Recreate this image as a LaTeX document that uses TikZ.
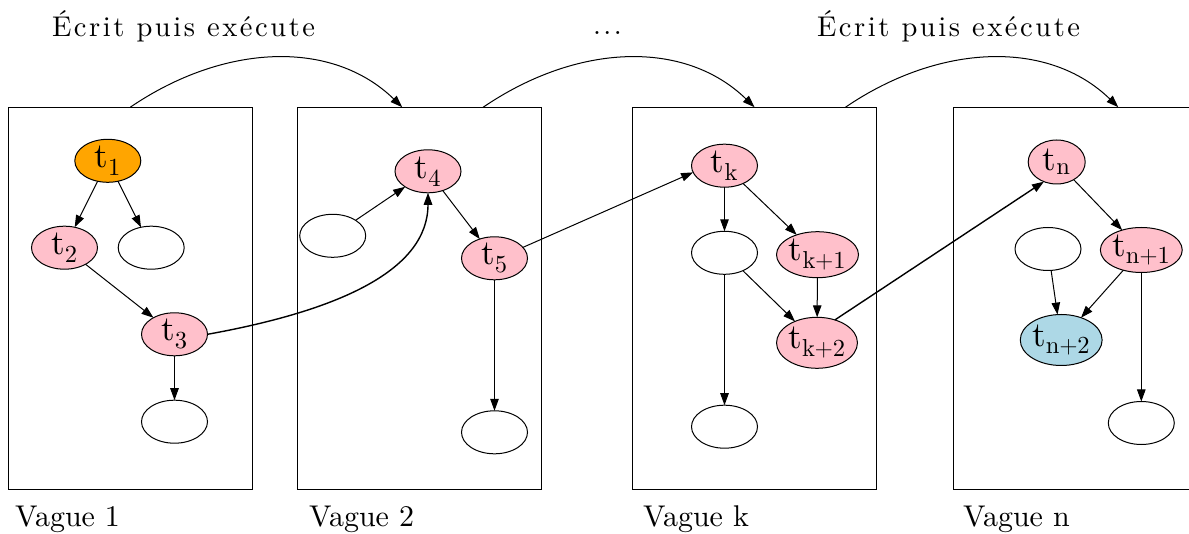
\documentclass[tikz,border=0pt]{standalone}
\usepackage{fontspec}
\setmainfont{lmroman10-regular.otf}
\newfontfamily\ttlfont{lmroman10-regular.otf}[LetterSpace=9]
\usetikzlibrary{shapes.geometric,arrows.meta,calc}
\definecolor{gvpink}{HTML}{FFC0CB}
\definecolor{gvorange}{HTML}{FFA500}
\definecolor{gvblue}{HTML}{ADD8E6}
\begin{document}
\begin{tikzpicture}[x=1pt,y=-1pt,
  every node/.style={outer sep=0pt},
  box/.style={draw, line width=1.2pt, rectangle, minimum width=244pt, minimum height=382pt, inner sep=0pt},
  task/.style={draw, line width=1pt, ellipse, inner sep=0pt, minimum width=66pt, minimum height=43pt, font=\fontsize{35}{40}\selectfont},
  empty/.style={task},
  edge/.style={draw, line width=1pt, -{Triangle[length=12pt,width=8.5pt]}},
  thickedge/.style={edge, line width=1.4pt},
  wave/.style={anchor=base west, inner sep=0pt, font=\fontsize{30}{36}\selectfont},
  title/.style={anchor=base west, inner sep=0pt, font=\ttlfont\fontsize{28.5}{32}\selectfont}
]
\useasboundingbox (0,0) rectangle (1189,534);

% titles
\node[title] (w1) at (52,36.7) {Écrit puis exécute};
\node[title] (w2) at (593,35) {...};
\node[title] (w3) at (817,36.7) {Écrit puis exécute};

% clusters
\node[box] (b1) at (130.3,298.2) {};
\node[box] (b2) at (419.2,298.2) {};
\node[box] (b3) at (754.5,298.2) {};
\node[box] (b4) at (1075.3,298.2) {};

\node[wave] (v1) at (15,526) {Vague 1};
\node[wave] (v2) at (309,526) {Vague 2};
\node[wave] (v3) at (643,526) {Vague k};
\node[wave] (v4) at (963,526) {Vague n};

% wave 1
\node[task, fill=gvorange] (t1) at (107.8,160.8) {$\mathrm{t}_{\mathrm{1}}$};
\node[task, fill=gvpink] (t2) at (64.5,247.7) {$\mathrm{t}_{\mathrm{2}}$};
\node[empty] (e1) at (151.2,247.7) {};
\node[task, fill=gvpink] (t3) at (174.5,334.3) {$\mathrm{t}_{\mathrm{3}}$};
\node[empty] (e2) at (174.5,421.7) {};

% wave 2
\node[task, fill=gvpink] (t4) at (428,171.3) {$\mathrm{t}_{\mathrm{4}}$};
\node[empty] (e3) at (332.7,235.8) {};
\node[task, fill=gvpink] (t5) at (494.5,258.3) {$\mathrm{t}_{\mathrm{5}}$};
\node[empty] (e4) at (494.5,432.3) {};

% wave k
\node[task, fill=gvpink] (tk) at (724.5,165.7) {$\mathrm{t}_{\mathrm{k}}$};
\node[empty] (e5) at (724.5,252.8) {};
\node[task, fill=gvpink, minimum width=82pt, minimum height=46pt] (tk1) at (817.5,254.7) {$\mathrm{t}_{\mathrm{k+1}}$};
\node[task, fill=gvpink, minimum width=76pt, minimum height=51pt] (tk2) at (817,342.8) {$\mathrm{t}_{\mathrm{k+2}}$};
\node[empty] (e6) at (724.5,426.7) {};

% wave n
\node[task, fill=gvpink, minimum width=57pt, minimum height=44pt] (tn) at (1056.7,162) {$\mathrm{t}_{\mathrm{n}}$};
\node[empty] (e7) at (1048,249) {};
\node[task, fill=gvpink, minimum width=77pt, minimum height=45pt] (tn1) at (1141.3,250) {$\mathrm{t}_{\mathrm{n+1}}$};
\node[task, fill=gvblue, minimum width=78pt, minimum height=51pt] (tn2) at (1061.2,340) {$\mathrm{t}_{\mathrm{n+2}}$};
\node[empty] (e8) at (1141.3,423) {};

% edges inside clusters
\draw[edge] (t1) -- (t2);
\draw[edge] (t1) -- (e1);
\draw[edge] (t2) -- (t3);
\draw[edge] (t3) -- (e2);
\draw[edge] (e3) -- (t4);
\draw[edge] (t4) -- (t5);
\draw[edge] (t5) -- (e4);
\draw[edge] (tk) -- (e5);
\draw[edge] (tk) -- (tk1);
\draw[edge] (e5) -- (tk2);
\draw[edge] (tk1) -- (tk2);
\draw[edge] (e5) -- (e6);
\draw[edge] (tn) -- (tn1);
\draw[edge] (e7) -- (tn2);
\draw[edge] (tn1) -- (tn2);
\draw[edge] (tn1) -- (e8);

% edges between clusters
\draw[thickedge] (t3.east) .. controls +(133,-24) and +(0,77) .. (t4.south);
\draw[edge] (t5.21) -- (tk.192);
\draw[thickedge] (tk2.52) -- (tn.237);

% top arcs
\coordinate (s1) at (b1.north);
\coordinate (f1) at ($(b2.north)+(-17,0)$);
\coordinate (s2) at ($(b2.north)+(64,0)$);
\coordinate (f2) at (b3.north);
\coordinate (s3) at ($(b3.north)+(91,0)$);
\coordinate (f3) at ($(b4.north)+(43,0)$);
\draw[edge] (s1) .. controls +(94,-64) and +(-70,-68) .. (f1);
\draw[edge] (s2) .. controls +(94,-64) and +(-70,-68) .. (f2);
\draw[edge] (s3) .. controls +(94,-64) and +(-70,-68) .. (f3);
\end{tikzpicture}
\end{document}
